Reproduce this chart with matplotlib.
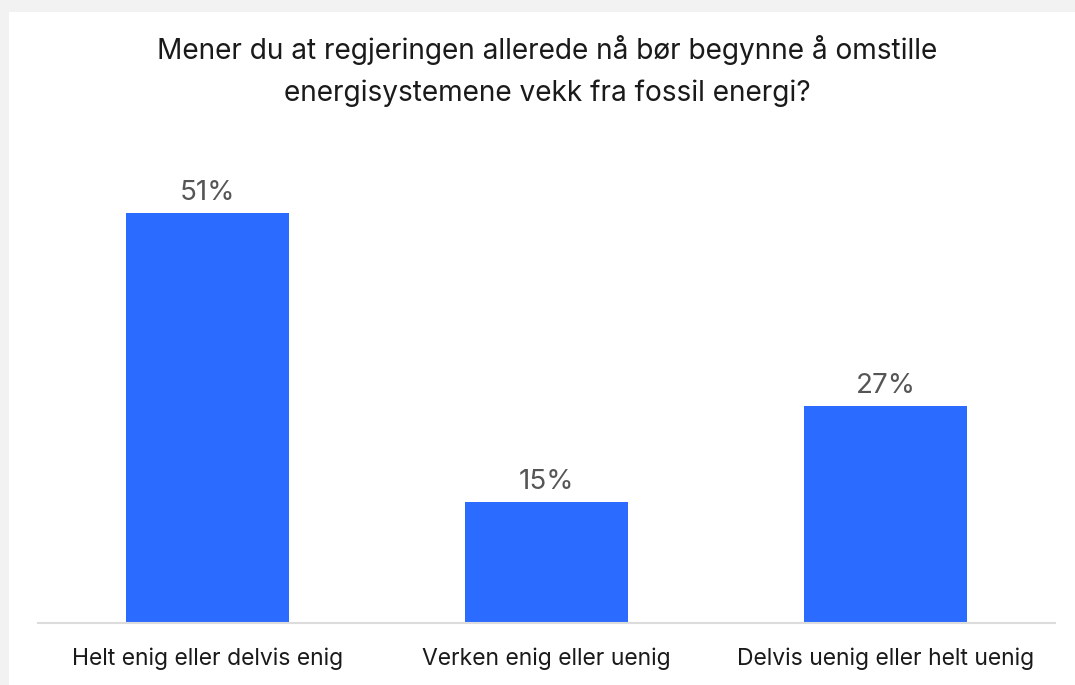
import matplotlib

matplotlib.use("Agg")
import matplotlib.pyplot as plt
from matplotlib.patches import Rectangle

plt.rcParams["font.family"] = ["Inter", "DejaVu Sans"]

CATEGORIES = ["Helt enig eller delvis enig", "Verken enig eller uenig", "Delvis uenig eller helt uenig"]
VALUES = [51, 15, 27]
TITLE = "Mener du at regjeringen allerede nå bør begynne å omstille\nenergisystemene vekk fra fossil energi?"

BAR_COLOR = "#2b6bff"


def main() -> None:
    fig = plt.figure(figsize=(10.75, 6.85), dpi=100)
    fig.patch.set_facecolor("#f2f2f2")

    # white card behind the chart
    fig.patches.append(Rectangle((9 / 1075, 0), 1.0, 1 - 12 / 685, transform=fig.transFigure,
                                 facecolor="white", edgecolor="none", zorder=-1))

    ax = fig.add_axes([38 / 1075, 62 / 685, 1017 / 1075, 473 / 685], zorder=2)
    ax.set_facecolor("none")

    x = range(len(CATEGORIES))
    bars = ax.bar(x, VALUES, width=0.478, color=BAR_COLOR)
    for bar, v in zip(bars, VALUES):
        ax.annotate(f"{v}%", (bar.get_x() + bar.get_width() / 2, v), xytext=(0, 5),
                    textcoords="offset points", ha="center", va="bottom",
                    fontsize=20, color="#555555")

    ax.set_xlim(-0.5, len(CATEGORIES) - 0.5)
    ax.set_ylim(0, 58.8)
    ax.set_xticks(list(x))
    ax.set_xticklabels(CATEGORIES, fontsize=16.5, color="#1a1a1a")
    ax.tick_params(axis="x", length=0, pad=18)
    ax.set_yticks([])
    for side in ("top", "right", "left"):
        ax.spines[side].set_visible(False)
    ax.spines["bottom"].set_color("#dcdcdc")
    ax.spines["bottom"].set_linewidth(1.5)

    fig.text(547 / 1075, 1 - 71 / 685, TITLE, ha="center", va="center",
             fontsize=20.2, color="#1a1a1a", linespacing=1.7, zorder=3)

    fig.savefig("out.png", dpi=100, facecolor=fig.get_facecolor())
    plt.close(fig)


if __name__ == "__main__":
    main()
